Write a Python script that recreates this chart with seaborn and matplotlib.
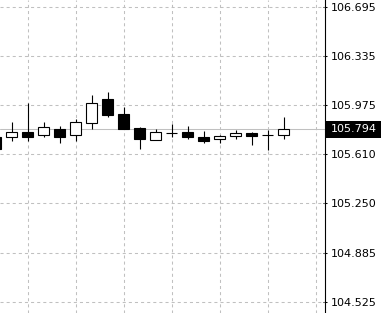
import matplotlib
matplotlib.use("Agg")
import matplotlib.pyplot as plt
import matplotlib.transforms as mtransforms
from matplotlib.patches import Rectangle
import seaborn as sns

# ---- data ----
bar_index = list(range(19))
opens  = [105.741, 105.736, 105.775, 105.751, 105.800, 105.751, 105.844, 106.016, 105.908,
          105.805, 105.720, 105.766, 105.775, 105.736, 105.726, 105.746, 105.770, 105.751, 105.751]
highs  = [105.745, 105.849, 105.987, 105.849, 105.820, 105.869, 106.045, 106.070, 105.962,
          105.810, 105.800, 105.834, 105.820, 105.785, 105.756, 105.790, 105.775, 105.790, 105.888]
lows   = [105.640, 105.711, 105.711, 105.741, 105.692, 105.711, 105.800, 105.884, 105.800,
          105.653, 105.717, 105.736, 105.722, 105.697, 105.692, 105.726, 105.682, 105.643, 105.726]
closes = [105.648, 105.773, 105.741, 105.810, 105.741, 105.849, 105.987, 105.898, 105.800,
          105.726, 105.775, 105.766, 105.736, 105.707, 105.746, 105.766, 105.746, 105.751, 105.794]

ytick_values = [106.695, 106.335, 105.975, 105.610, 105.250, 104.885, 104.525]
ytick_labels = ["106.695", "106.335", "105.975", "105.610", "105.250", "104.885", "104.525"]
vgrid_index = [2, 5, 8, 11, 14, 17, 20]
current_price = 105.794
current_label = "105.794"

# ---- style ----
sns.set_style("white")
plt.rcParams['font.family'] = ['DejaVu Sans']
plt.rcParams['lines.scale_dashes'] = False

W, H = 381, 313
AX_W = 325
fig = plt.figure(figsize=(W / 100, H / 100), dpi=100)
ax = fig.add_axes([0, 0, AX_W / W, 1])

px_per_bar = 16.0
x0 = 0.28125
ax.set_xlim(x0, x0 + AX_W / px_per_bar)
ax.set_ylim(104.444, 106.7465)

grid_kw = dict(color='#c0c0c0', lw=0.75, dashes=(2.2, 2.2), zorder=1)
for y in ytick_values:
    ax.axhline(y, **grid_kw)
for x in vgrid_index:
    ax.axvline(x, **grid_kw)

ax.axhline(current_price, color='#c0c0c0', lw=0.75, zorder=1.5)

# wicks
ax.vlines(bar_index, lows, highs, color='black', lw=0.8, zorder=2)
# bodies
body_w = 0.66
for i, o, c in zip(bar_index, opens, closes):
    bottom = min(o, c)
    height = abs(c - o)
    face = 'white' if c >= o else 'black'
    ax.bar(i, height, bottom=bottom, width=body_w, color=face,
           edgecolor='black', linewidth=0.8, zorder=3)

# axes styling
for s in ['top', 'left', 'bottom']:
    ax.spines[s].set_visible(False)
ax.spines['right'].set_color('black')
ax.spines['right'].set_linewidth(0.8)
ax.set_xticks([])
ax.yaxis.tick_right()
ax.set_yticks(ytick_values, ytick_labels)
ax.tick_params(axis='y', direction='inout', length=3, width=0.75,
               labelsize=8, pad=2.5, colors='black')

# current price tag
trans = mtransforms.blended_transform_factory(ax.transAxes, ax.transData)
ax.add_patch(Rectangle((1.0 + 1 / AX_W, current_price - 8.5 / 135.94), 56 / AX_W, 17 / 135.94,
                       transform=trans, clip_on=False, facecolor='black', edgecolor='none', zorder=5))
ax.text(1.0 + 6 / AX_W, current_price, current_label, transform=trans, color='white',
        fontsize=8, va='center', ha='left', clip_on=False, zorder=6)

fig.savefig("out.png", dpi=100)
